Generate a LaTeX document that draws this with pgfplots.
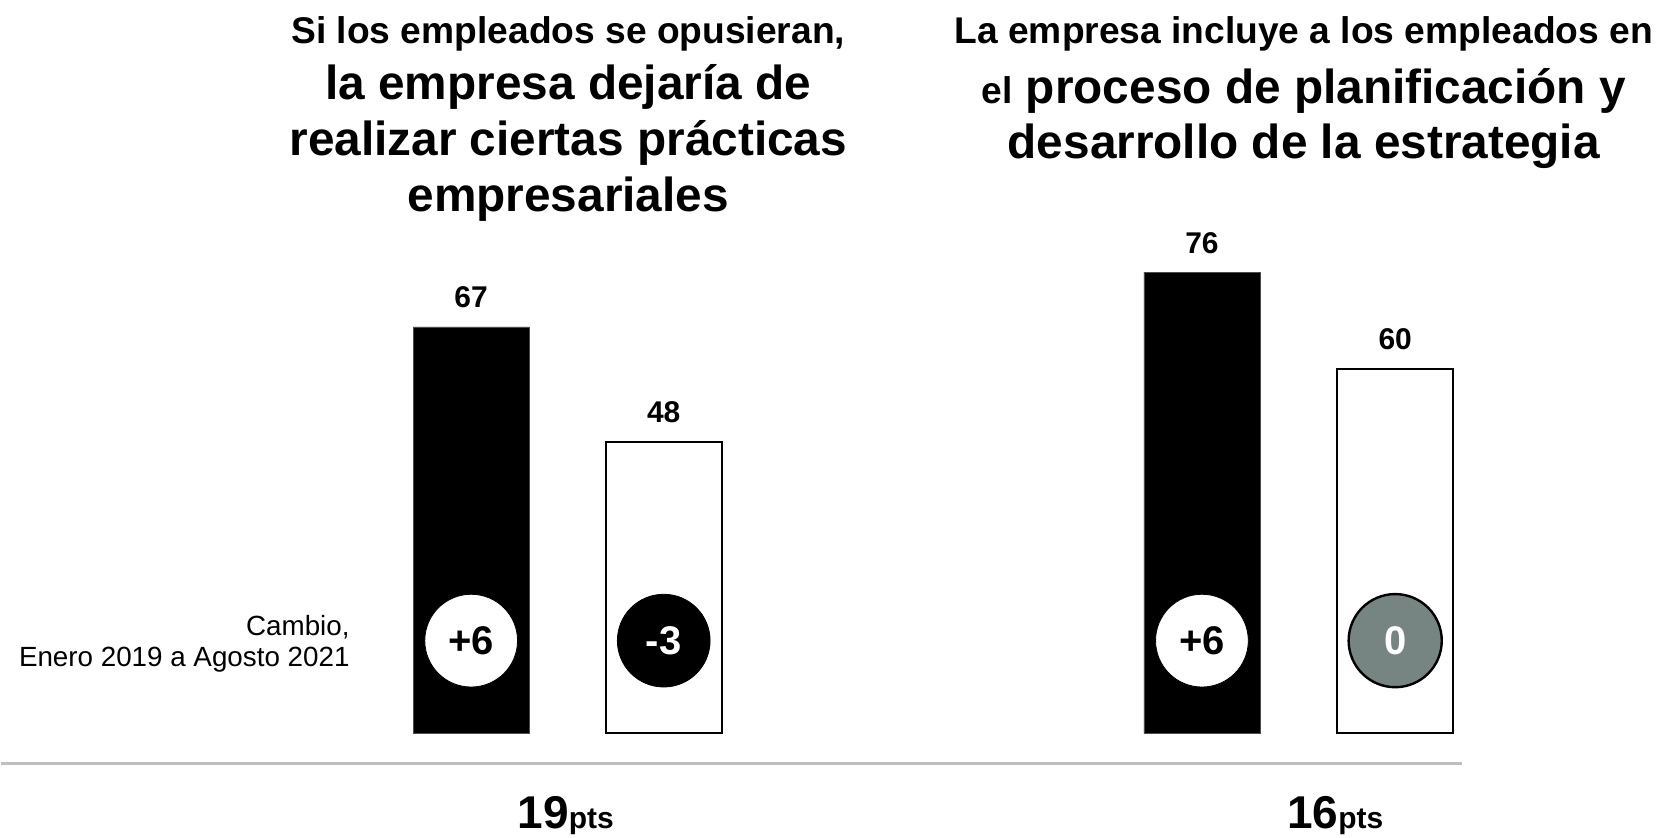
\documentclass[border=0pt]{standalone}
\usepackage{pgfplots}
\pgfplotsset{compat=1.18}
\usepackage{fontspec}
\setmainfont{Liberation Sans}
\definecolor{circgray}{HTML}{768582}
\definecolor{linegray}{HTML}{BFBFBF}
\newcommand{\fs}[1]{\fontsize{#1}{1.2\dimexpr#1\relax}\selectfont}
\begin{document}
\begin{tikzpicture}
\begin{axis}[
  width=828.5pt, height=419pt, scale only axis,
  xmin=0, xmax=1657, ymin=-17.13, ymax=120.9,
  hide axis, clip=false,
  /pgf/number format/assume math mode=true,
]
\path (rel axis cs:0,0) rectangle (rel axis cs:1,1);
% separator line
\addplot[linegray, line width=1.2pt, forget plot] coordinates {(0,-4.94) (1462,-4.94)};
% black bars
\addplot[ybar, bar width=116, bar shift=0pt, fill=black, draw=black!70, line width=0.4pt,
  nodes near coords, nodes near coords style={font=\bfseries\fs{15pt}, text=black, anchor=south, inner sep=0pt, yshift=9.2pt}]
  coordinates {(470.3,67) (1201.6,76)};
% white bars
\addplot[ybar, bar width=116, bar shift=0pt, fill=white, draw=black, line width=1pt,
  nodes near coords, nodes near coords style={font=\bfseries\fs{15pt}, text=black, anchor=south, inner sep=0pt, yshift=9.2pt}]
  coordinates {(663,48) (1395,60)};
% change circles
\addplot[only marks, mark=*, mark size=23.2pt, mark options={fill=white, draw=none},
  point meta=explicit symbolic, nodes near coords,
  nodes near coords align={center},
  nodes near coords style={font=\bfseries\fs{20pt}, text=black, anchor=center}]
  table[meta=label] {
x y label
470.3 15.3 +6
1201.6 15.3 +6
};
\addplot[only marks, mark=*, mark size=23.2pt, mark options={fill=black, draw=none},
  point meta=explicit symbolic, nodes near coords,
  nodes near coords align={center},
  nodes near coords style={font=\bfseries\fs{20pt}, text=white, anchor=center}]
  table[meta=label] {
x y label
663 15.3 -3
};
\addplot[only marks, mark=*, mark size=23.3pt, mark options={fill=circgray, draw=black, line width=1.2pt},
  point meta=explicit symbolic, nodes near coords,
  nodes near coords align={center},
  nodes near coords style={font=\bfseries\fs{20pt}, text=white, anchor=center}]
  table[meta=label] {
x y label
1395 15.3 0
};
% side label
\node[anchor=base east, font=\fs{13.9pt}, inner sep=0pt] at (axis cs:349,16.14) {Cambio,};
\node[anchor=base east, font=\fs{13.9pt}, inner sep=0pt] at (axis cs:349,11.04) {Enero 2019 a Agosto 2021};
% left title
\node[anchor=base, font=\bfseries\fs{18.6pt}, inner sep=0pt] at (axis cs:567.5,113.65) {Si los empleados se opusieran,};
\node[anchor=base, font=\bfseries\fs{23.9pt}, inner sep=0pt] at (axis cs:567.5,104.43) {la empresa dejaría de};
\node[anchor=base, font=\bfseries\fs{23.9pt}, inner sep=0pt] at (axis cs:567.5,95.21) {realizar ciertas prácticas};
\node[anchor=base, font=\bfseries\fs{23.9pt}, inner sep=0pt] at (axis cs:567.5,85.98) {empresariales};
% right title
\node[anchor=base, font=\bfseries\fs{18.6pt}, inner sep=0pt] at (axis cs:1303.5,113.65) {La empresa incluye a los empleados en};
\node[anchor=base, font=\bfseries\fs{23.9pt}, inner sep=0pt] at (axis cs:1303.5,103.9) {{\fs{18.6pt}el} proceso de planificación y};
\node[anchor=base, font=\bfseries\fs{23.9pt}, inner sep=0pt] at (axis cs:1303.5,94.7) {desarrollo de la estrategia};
% bottom totals
\node[anchor=base, font=\bfseries, inner sep=0pt] at (axis cs:565,-15.6) {{\fs{23pt}19}{\fs{15pt}pts}};
\node[anchor=base, font=\bfseries, inner sep=0pt] at (axis cs:1335,-15.6) {{\fs{23pt}16}{\fs{15pt}pts}};
\end{axis}
\end{tikzpicture}
\end{document}
